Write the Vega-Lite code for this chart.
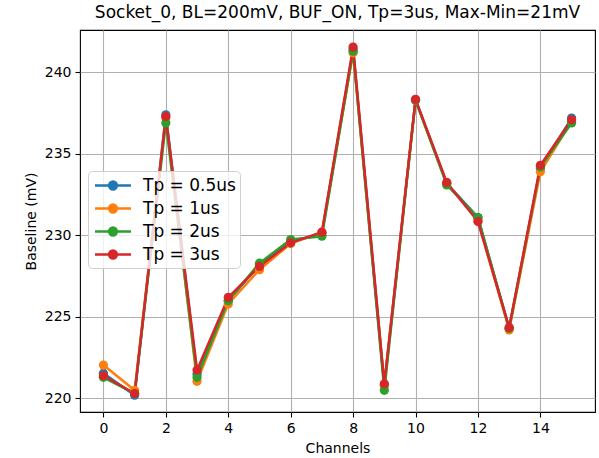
{
  "$schema": "https://vega.github.io/schema/vega-lite/v6.json",
  "autosize": "none",
  "width": 515,
  "height": 382,
  "padding": {"left": 80, "top": 30, "right": 4, "bottom": 46},
  "background": "white",
  "title": {"text": "Socket_0, BL=200mV, BUF_ON, Tp=3us, Max-Min=21mV", "font": "DejaVu Sans", "fontSize": 17, "fontWeight": "normal", "color": "#000000", "offset": 8, "anchor": "middle"},
  "config": {
    "view": {"stroke": "#000000", "strokeWidth": 1.1},
    "axis": {"labelFont": "DejaVu Sans", "titleFont": "DejaVu Sans", "labelFontSize": 14, "titleFontSize": 14, "titleFontWeight": "normal", "labelColor": "#000000", "titleColor": "#000000", "domain": false, "tickColor": "#000000", "tickWidth": 1.1, "tickSize": 5, "labelPadding": 4, "grid": true, "gridColor": "#b0b0b0", "gridWidth": 1.1}
  },
  "data": {"values": [
    {"ch": 0, "s": "Tp = 0.5us", "v": 221.55}, {"ch": 0, "s": "Tp = 1us", "v": 222.05}, {"ch": 0, "s": "Tp = 2us", "v": 221.3}, {"ch": 0, "s": "Tp = 3us", "v": 221.4},
    {"ch": 1, "s": "Tp = 0.5us", "v": 220.2}, {"ch": 1, "s": "Tp = 1us", "v": 220.5}, {"ch": 1, "s": "Tp = 2us", "v": 220.3}, {"ch": 1, "s": "Tp = 3us", "v": 220.3},
    {"ch": 2, "s": "Tp = 0.5us", "v": 237.4}, {"ch": 2, "s": "Tp = 1us", "v": 237.2}, {"ch": 2, "s": "Tp = 2us", "v": 236.9}, {"ch": 2, "s": "Tp = 3us", "v": 237.3},
    {"ch": 3, "s": "Tp = 0.5us", "v": 221.5}, {"ch": 3, "s": "Tp = 1us", "v": 221.05}, {"ch": 3, "s": "Tp = 2us", "v": 221.3}, {"ch": 3, "s": "Tp = 3us", "v": 221.75},
    {"ch": 4, "s": "Tp = 0.5us", "v": 226.0}, {"ch": 4, "s": "Tp = 1us", "v": 225.8}, {"ch": 4, "s": "Tp = 2us", "v": 226.0}, {"ch": 4, "s": "Tp = 3us", "v": 226.2},
    {"ch": 5, "s": "Tp = 0.5us", "v": 228.2}, {"ch": 5, "s": "Tp = 1us", "v": 227.9}, {"ch": 5, "s": "Tp = 2us", "v": 228.3}, {"ch": 5, "s": "Tp = 3us", "v": 228.1},
    {"ch": 6, "s": "Tp = 0.5us", "v": 229.6}, {"ch": 6, "s": "Tp = 1us", "v": 229.5}, {"ch": 6, "s": "Tp = 2us", "v": 229.75}, {"ch": 6, "s": "Tp = 3us", "v": 229.55},
    {"ch": 7, "s": "Tp = 0.5us", "v": 230.1}, {"ch": 7, "s": "Tp = 1us", "v": 230.2}, {"ch": 7, "s": "Tp = 2us", "v": 229.95}, {"ch": 7, "s": "Tp = 3us", "v": 230.2},
    {"ch": 8, "s": "Tp = 0.5us", "v": 241.4}, {"ch": 8, "s": "Tp = 1us", "v": 241.2}, {"ch": 8, "s": "Tp = 2us", "v": 241.3}, {"ch": 8, "s": "Tp = 3us", "v": 241.55},
    {"ch": 9, "s": "Tp = 0.5us", "v": 220.8}, {"ch": 9, "s": "Tp = 1us", "v": 220.8}, {"ch": 9, "s": "Tp = 2us", "v": 220.5}, {"ch": 9, "s": "Tp = 3us", "v": 220.9},
    {"ch": 10, "s": "Tp = 0.5us", "v": 238.3}, {"ch": 10, "s": "Tp = 1us", "v": 238.3}, {"ch": 10, "s": "Tp = 2us", "v": 238.3}, {"ch": 10, "s": "Tp = 3us", "v": 238.35},
    {"ch": 11, "s": "Tp = 0.5us", "v": 233.2}, {"ch": 11, "s": "Tp = 1us", "v": 233.2}, {"ch": 11, "s": "Tp = 2us", "v": 233.1}, {"ch": 11, "s": "Tp = 3us", "v": 233.25},
    {"ch": 12, "s": "Tp = 0.5us", "v": 231.1}, {"ch": 12, "s": "Tp = 1us", "v": 230.9}, {"ch": 12, "s": "Tp = 2us", "v": 231.1}, {"ch": 12, "s": "Tp = 3us", "v": 230.85},
    {"ch": 13, "s": "Tp = 0.5us", "v": 224.3}, {"ch": 13, "s": "Tp = 1us", "v": 224.2}, {"ch": 13, "s": "Tp = 2us", "v": 224.3}, {"ch": 13, "s": "Tp = 3us", "v": 224.35},
    {"ch": 14, "s": "Tp = 0.5us", "v": 234.1}, {"ch": 14, "s": "Tp = 1us", "v": 233.9}, {"ch": 14, "s": "Tp = 2us", "v": 234.2}, {"ch": 14, "s": "Tp = 3us", "v": 234.3},
    {"ch": 15, "s": "Tp = 0.5us", "v": 237.2}, {"ch": 15, "s": "Tp = 1us", "v": 237.0}, {"ch": 15, "s": "Tp = 2us", "v": 236.9}, {"ch": 15, "s": "Tp = 3us", "v": 237.1}
  ]},
  "encoding": {
    "x": {"field": "ch", "type": "quantitative", "title": "Channels", "scale": {"domain": [-0.75, 15.75], "nice": false, "zero": false}, "axis": {"values": [0, 2, 4, 6, 8, 10, 12, 14], "titlePadding": 6}},
    "y": {"field": "v", "type": "quantitative", "title": "Baseline (mV)", "scale": {"domain": [219.17, 242.6], "nice": false, "zero": false}, "axis": {"values": [220, 225, 230, 235, 240], "titlePadding": 6}},
    "color": {"field": "s", "type": "nominal", "scale": {"domain": ["Tp = 0.5us", "Tp = 1us", "Tp = 2us", "Tp = 3us"], "range": ["#1f77b4", "#ff7f0e", "#2ca02c", "#d62728"]},
      "legend": {"title": null, "orient": "none", "legendX": 8, "legendY": 141, "labelFont": "DejaVu Sans", "labelFontSize": 17, "labelColor": "#000000", "padding": 4, "cornerRadius": 4, "strokeColor": "#d0d0d0", "fillColor": "rgba(255,255,255,0.8)", "symbolType": "M-0.81,0H3.08M0.715,0A0.42,0.42 0 1,1 1.555,0A0.42,0.42 0 1,1 0.715,0Z", "symbolSize": 342, "symbolStrokeWidth": 2.5, "rowPadding": 3, "labelOffset": 30,
        "encode": {"symbols": {"update": {"fill": {"scale": "color", "field": "value"}, "stroke": {"scale": "color", "field": "value"}, "size": {"value": 342}, "strokeWidth": {"value": 2.5}, "shape": {"value": "M-0.81,0H3.08M0.715,0A0.42,0.42 0 1,1 1.555,0A0.42,0.42 0 1,1 0.715,0Z"}, "opacity": {"value": 1}}}}}
    }
  },
  "layer": [
    {"mark": {"type": "line", "strokeWidth": 2.5}},
    {"mark": {"type": "point", "filled": true, "size": 85, "opacity": 1}}
  ]
}
